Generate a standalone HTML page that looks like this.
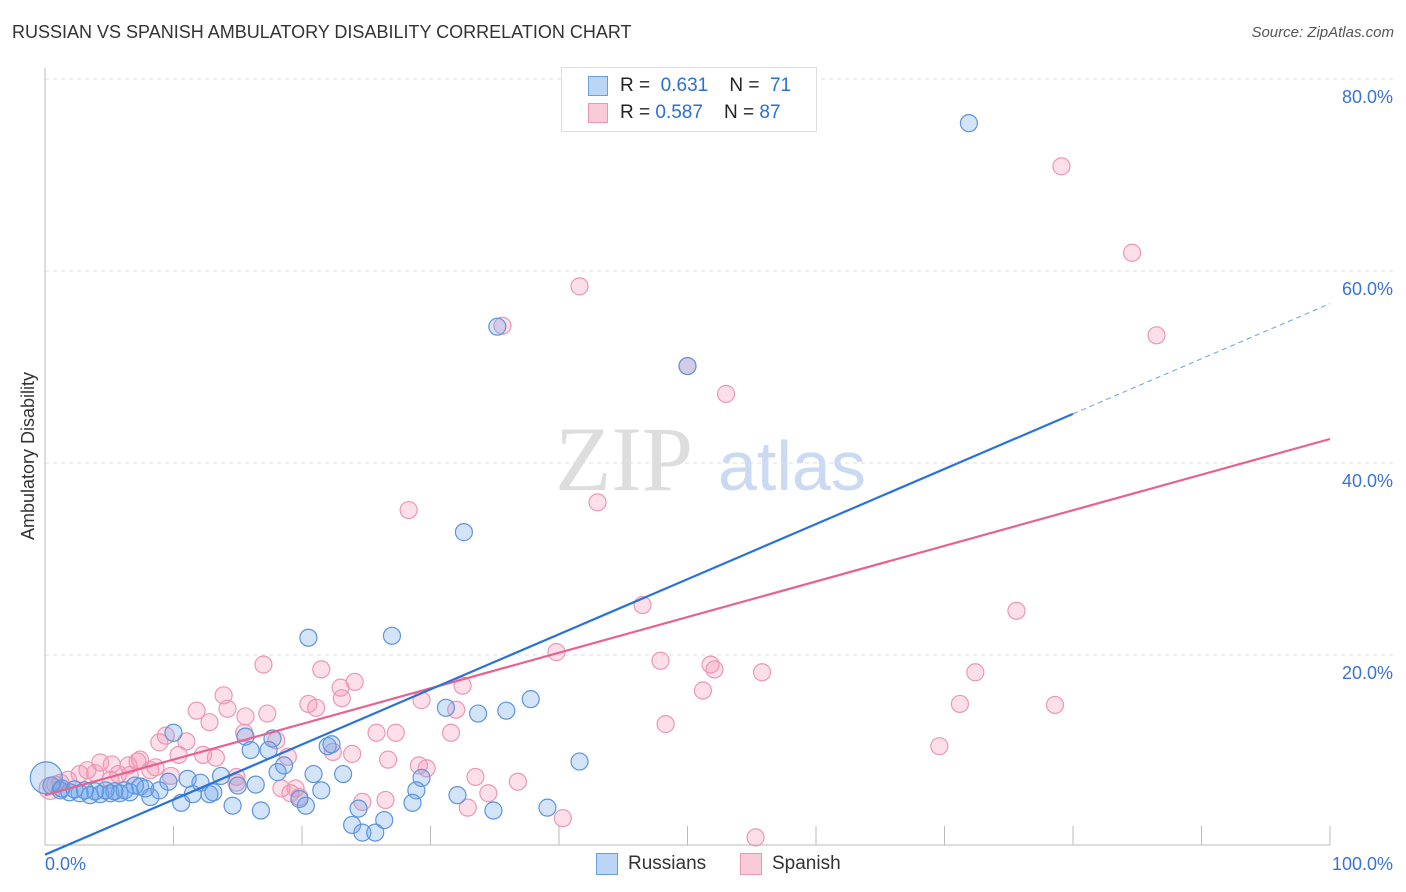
<!DOCTYPE html>
<html><head><meta charset="utf-8"><style>
body{margin:0;background:#fff;font-family:"Liberation Sans",sans-serif;}
#wrap{position:relative;width:1406px;height:892px;overflow:hidden;}
.t{position:absolute;white-space:nowrap;}
</style></head><body>
<div id="wrap">
<div class="t" style="left:12px;top:22px;font-size:18px;color:#333;">RUSSIAN VS SPANISH AMBULATORY DISABILITY CORRELATION CHART</div>
<div class="t" style="right:12px;top:24px;font-size:15px;color:#555;font-style:italic;">Source: ZipAtlas.com</div>
<svg id="svg" width="1406" height="892" style="position:absolute;left:0;top:0"></svg>
</div>
<script>
const xTicks=[0,10,20,30,40,50,60,70,80,90,100];
const yTicks=[20,40,60,80];
const ruX=[71.9,35.2,50.0,32.6,20.5,27.0,37.8,35.9,33.7,31.2,41.6,10.0,15.6,17.7,16.0,17.4,22.0,22.3,18.6,18.1,23.2,20.9,13.7,11.1,9.6,12.1,13.1,15.0,16.4,29.3,28.9,32.1,28.6,34.9,39.1,24.4,26.4,23.9,24.7,25.7,14.6,16.8,20.3,19.8,21.5,10.6,8.2,8.9,7.4,6.6,5.8,5.1,4.3,3.5,2.7,1.9,1.2,0.5,0.1,1.3,12.8,11.5,7.8,7.0,6.2,5.4,4.7,3.9,3.1,2.3];
const ruY=[75.4,54.2,50.1,32.8,21.8,22.0,15.4,14.2,13.9,14.5,8.9,11.9,11.5,11.3,10.1,10.1,10.5,10.7,8.5,7.8,7.6,7.6,7.4,7.1,6.8,6.7,5.7,6.4,6.5,7.2,5.9,5.4,4.6,3.8,4.1,4.0,2.8,2.3,1.5,1.5,4.3,3.8,4.3,5.0,5.9,4.6,5.2,5.9,6.3,5.7,5.6,5.6,5.5,5.4,5.6,5.7,5.9,6.4,7.2,6.1,5.5,5.5,6.1,6.4,5.9,5.8,5.9,5.8,5.9,6.0];
const spX=[79.1,84.6,86.5,41.6,35.6,50.0,53.0,28.3,43.0,46.5,75.6,39.8,47.9,51.8,52.1,55.8,72.4,51.2,21.5,17.0,24.1,23.0,13.9,23.1,20.5,21.1,11.8,14.2,15.6,17.3,12.8,29.3,32.5,32.0,48.3,71.2,78.6,69.6,15.5,18.0,8.9,11.0,9.4,25.8,27.3,31.6,23.9,22.4,18.9,12.3,13.3,10.4,26.7,29.1,29.7,7.4,6.5,4.3,5.2,6.6,8.2,5.7,3.3,2.7,3.9,14.9,33.5,36.8,14.9,18.4,19.1,19.8,34.5,26.5,24.7,32.9,40.3,55.3,1.8,1.2,0.4,0.8,5.1,9.8,8.6,7.2,19.5];
const spY=[70.9,61.9,53.3,58.4,54.3,50.1,47.2,35.1,35.9,25.2,24.6,20.3,19.4,19.0,18.5,18.2,18.2,16.3,18.5,19.0,17.2,16.6,15.8,15.5,14.9,14.5,14.2,14.4,13.6,13.9,13.0,15.3,16.8,14.3,12.8,14.9,14.8,10.5,11.9,11.1,10.9,11.0,11.6,11.9,11.9,11.9,9.7,9.9,9.4,9.6,9.3,9.6,9.1,8.5,8.2,9.1,8.5,8.8,8.6,7.5,8.0,7.6,8.0,7.6,7.7,7.3,7.3,6.8,6.7,6.1,5.6,5.2,5.6,4.9,4.7,4.1,3.0,1.0,7.0,6.7,6.1,6.5,7.0,7.4,8.3,8.9,6.1];
const ruLine=[-0.8,0.574]; // intercept, slope
const spLine=[5.4,0.371];
const X=v=>45+v*12.85, Y=v=>847-v*9.6;
const NS="http://www.w3.org/2000/svg", svg=document.getElementById('svg');
function mk(t,a){const e=document.createElementNS(NS,t);for(const k in a)e.setAttribute(k,a[k]);svg.appendChild(e);return e;}
// watermark
let w=mk('text',{x:555,y:490,'font-size':92,fill:'#ddd','font-family':'Liberation Serif, serif'});w.textContent='ZIP';


w=mk('text',{x:718,y:490,'font-size':70,fill:'#c9daf2','font-family':'Liberation Sans, sans-serif'});w.textContent='atlas';


yTicks.forEach(v=>{
 let g=mk('line',{x1:45,x2:1395,y1:Y(v),y2:Y(v),stroke:'#ddd','stroke-dasharray':'4 4'});
 
 
 let t=mk('text',{x:1393,y:Y(v)+24,'text-anchor':'end','font-size':18,fill:'#3b73d4'});t.textContent=v.toFixed(1)+'%';
 
 
});
let ax=mk('line',{x1:45,x2:45,y1:68,y2:845,stroke:'#bbb'});


ax=mk('line',{x1:45,x2:1330,y1:845,y2:845,stroke:'#bbb'});


xTicks.forEach(v=>{if(v===0)return;
 let l=mk('line',{x1:X(v),x2:X(v),y1:826,y2:845,stroke:'#bbb'});
 
 
});
let tl=mk('text',{x:45,y:870,'font-size':18,fill:'#3b73d4'});tl.textContent='0.0%';


tl=mk('text',{x:1393,y:870,'text-anchor':'end','font-size':18,fill:'#3b73d4'});tl.textContent='100.0%';


tl=mk('text',{x:34,y:456,'font-size':18,fill:'#333','text-anchor':'middle',transform:'rotate(-90 34 456)'});tl.textContent='Ambulatory Disability';


spX.forEach((x,i)=>{let c=mk('circle',{cx:X(x),cy:Y(spY[i]),r:i===80?11:8.5,fill:'rgba(244,150,180,0.3)',stroke:'#ec98b4','stroke-width':1.2});
 
 });
ruX.forEach((x,i)=>{let c=mk('circle',{cx:X(x),cy:Y(ruY[i]),r:i===58?16:8.5,fill:'rgba(110,165,235,0.3)',stroke:'#5d94dc','stroke-width':1.2});
 
 });
let ln=mk('line',{x1:X(0),y1:Y(spLine[0]),x2:X(100),y2:Y(spLine[0]+spLine[1]*100),stroke:'#e8628f','stroke-width':2.2});


ln=mk('line',{x1:X(0),y1:Y(ruLine[0]),x2:X(80),y2:Y(ruLine[0]+ruLine[1]*80),stroke:'#2a72d8','stroke-width':2.2});


ln=mk('line',{x1:X(80),y1:Y(ruLine[0]+ruLine[1]*80),x2:X(100),y2:Y(ruLine[0]+ruLine[1]*100),stroke:'#6a9ee0','stroke-width':1,'stroke-dasharray':'5 4'});


</script>
<div class="t" style="left:561px;top:67px;width:254px;height:63px;border:1px solid #ddd;background:#fff;">
 <div style="position:absolute;left:26px;top:8px;width:18px;height:18px;background:#bcd5f5;border:1px solid #6a9ee0;"></div>
 <div class="t" style="left:58px;top:7px;font-size:19px;color:#222;">R = <span style="color:#2a6fd6">&nbsp;0.631</span>&nbsp;&nbsp;&nbsp; N = <span style="color:#2a6fd6">&nbsp;71</span></div>
 <div style="position:absolute;left:26px;top:35px;width:18px;height:18px;background:#f9cbd9;border:1px solid #ec98b4;"></div>
 <div class="t" style="left:58px;top:34px;font-size:19px;color:#222;">R = <span style="color:#2a6fd6">0.587</span>&nbsp;&nbsp;&nbsp; N = <span style="color:#2a6fd6">87</span></div>
</div>
<div class="t" style="left:596px;top:853px;width:20px;height:20px;background:#bcd5f5;border:1px solid #6a9ee0;"></div>
<div class="t" style="left:628px;top:853px;font-size:19px;color:#333;">Russians</div>
<div class="t" style="left:740px;top:853px;width:20px;height:20px;background:#f9cbd9;border:1px solid #ec98b4;"></div>
<div class="t" style="left:772px;top:853px;font-size:19px;color:#333;">Spanish</div>
</body></html>
